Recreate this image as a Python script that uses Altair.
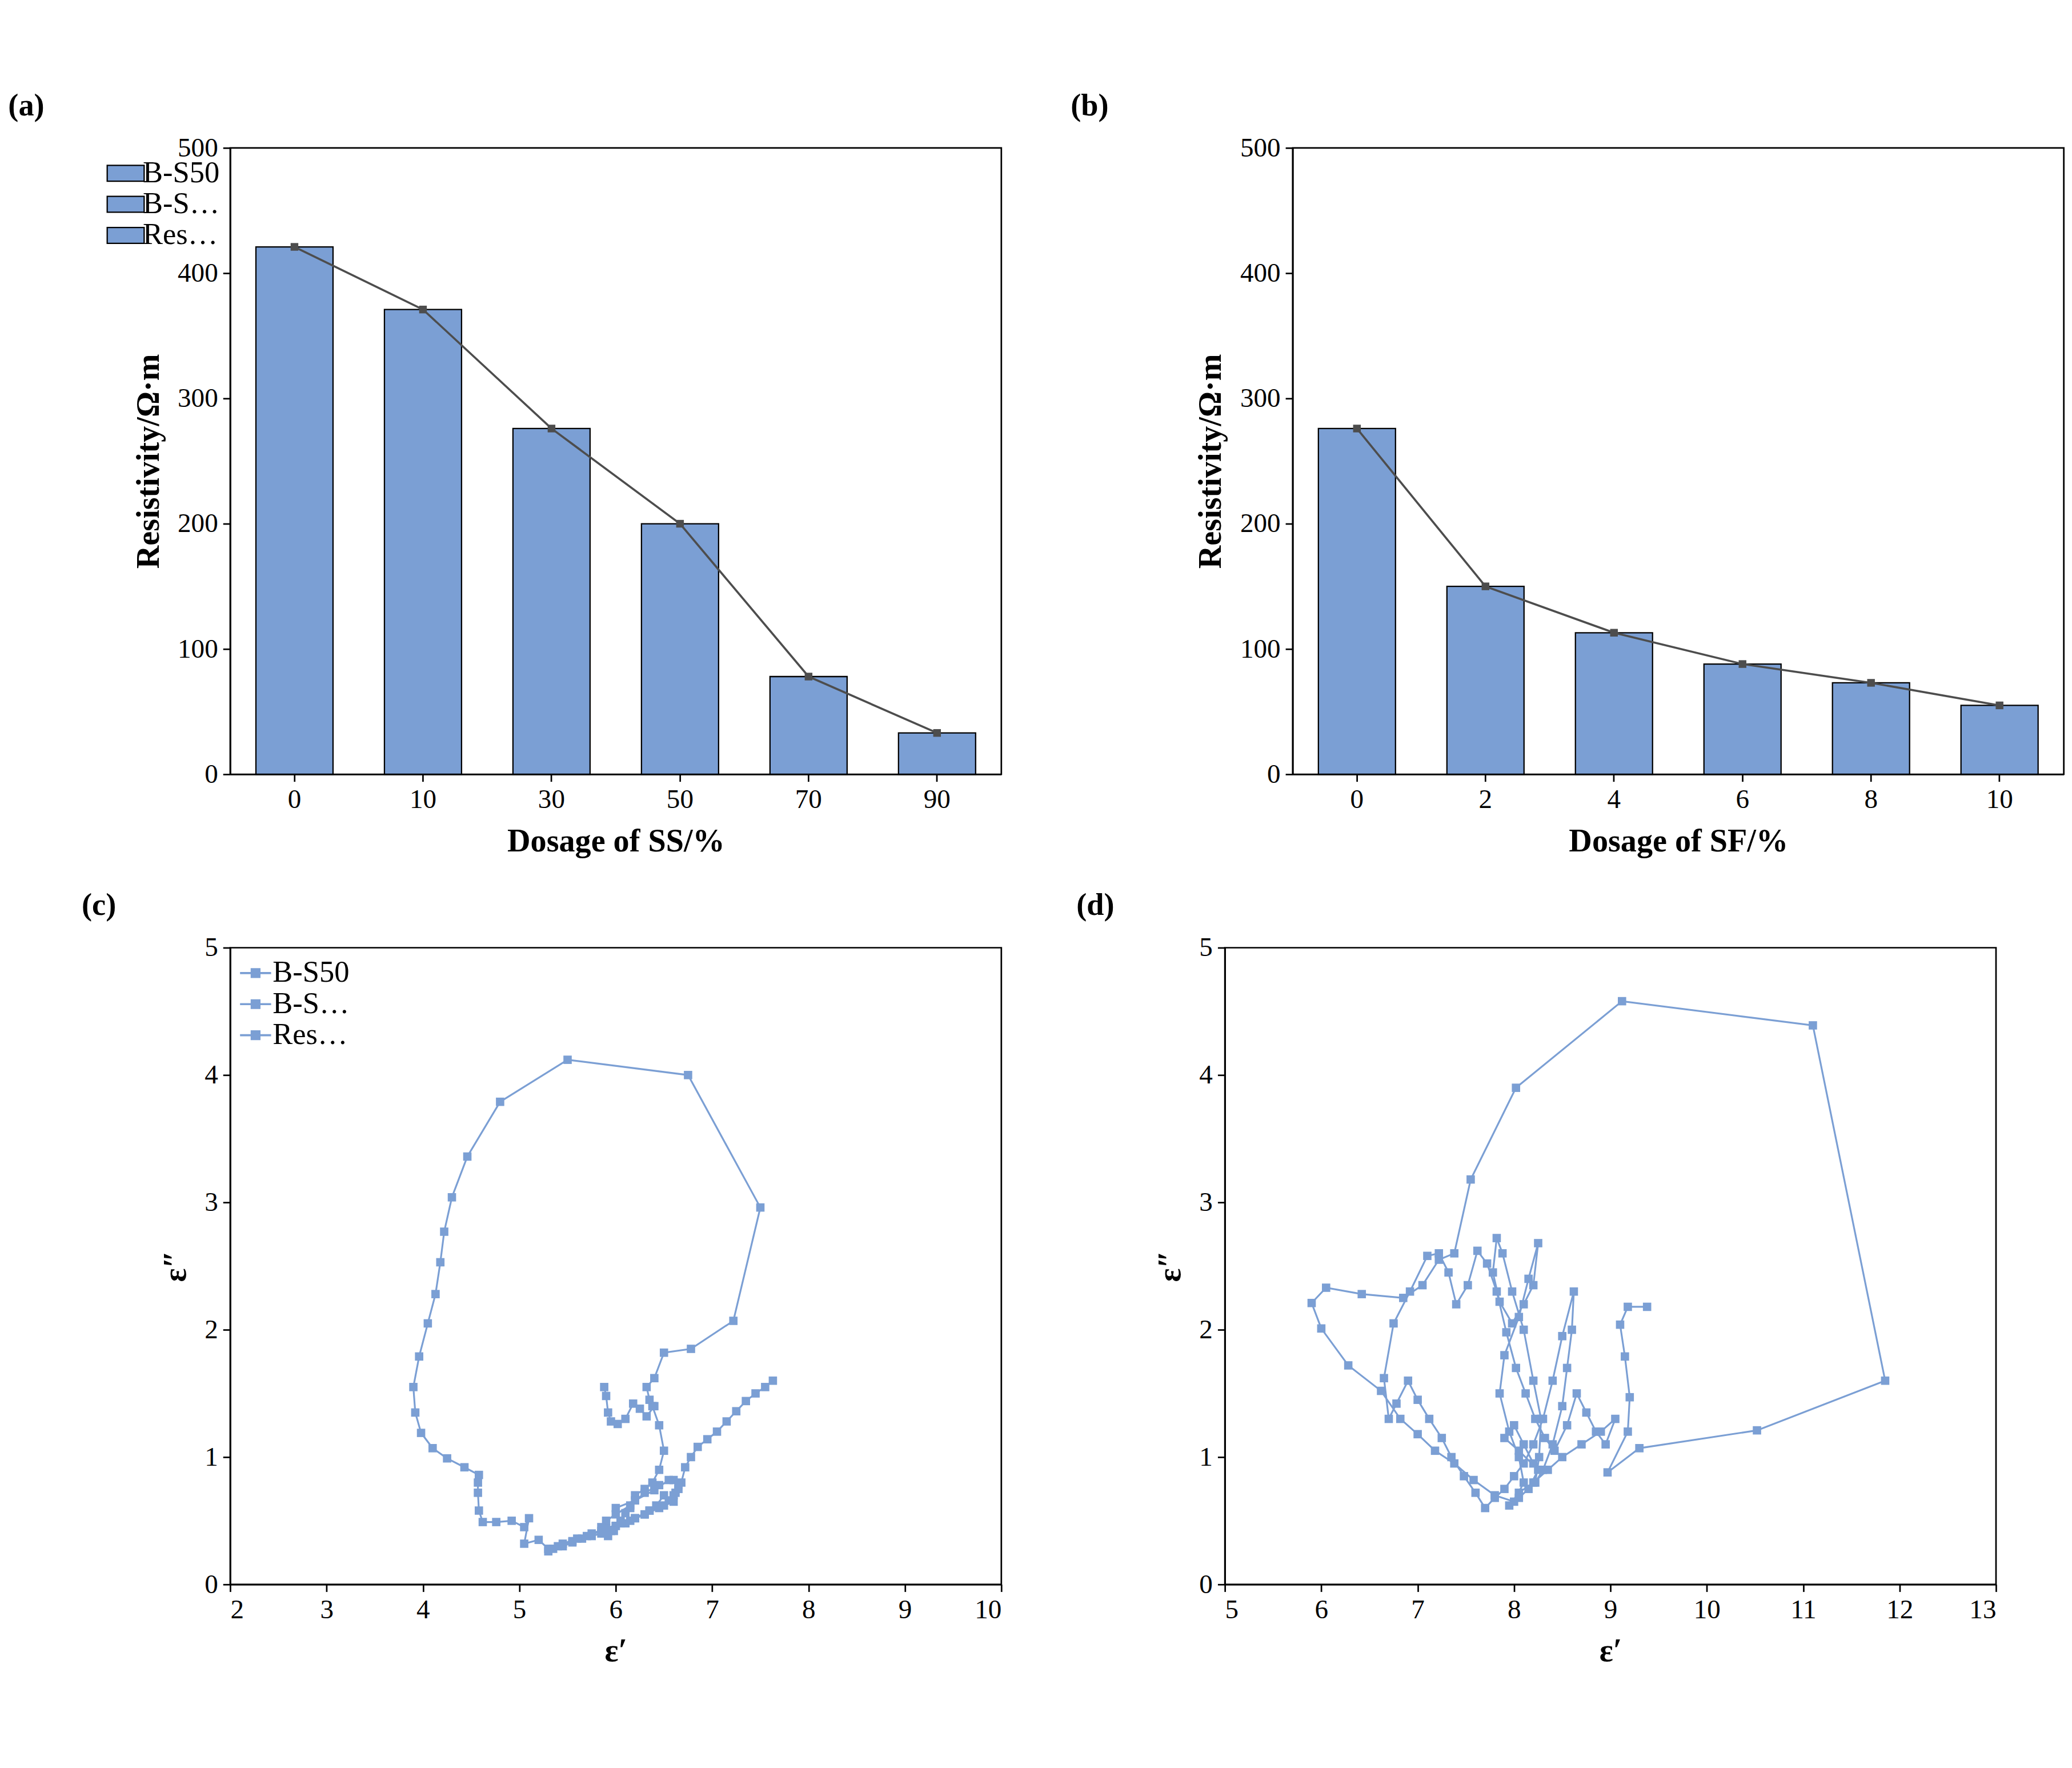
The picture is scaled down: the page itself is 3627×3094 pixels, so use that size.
import altair as alt
import pandas as pd

ss_dosage = ["0", "10", "30", "50", "70", "90"]
ss_resistivity = [421, 371, 276, 200, 78, 33]
sf_dosage = ["0", "2", "4", "6", "8", "10"]
sf_resistivity = [276, 150, 113, 88, 73, 55]

bs50_eps1 = [7.63, 7.55, 7.45, 7.35, 7.25, 7.15, 7.05, 6.95, 6.85, 6.78, 6.72, 6.68, 6.62, 6.55, 6.5, 6.42,
             6.35, 6.3, 6.2, 6.1, 6.0, 5.95, 5.85, 5.75, 5.65, 5.55, 5.45, 5.35, 5.3, 5.4, 5.55, 5.7, 5.85,
             6.0, 6.15, 6.3, 6.45, 6.6, 6.65, 6.6, 6.45, 6.3, 6.15, 6.0, 5.9, 5.85, 5.88, 5.92, 5.98, 6.05,
             6.1, 6.15, 6.2, 6.3, 6.38, 6.45, 6.5, 6.45, 6.38, 6.35, 6.32, 6.4, 6.5, 6.78, 7.22, 7.5, 6.75,
             5.5, 4.8, 4.46, 4.3, 4.22, 4.18, 4.13, 4.05, 3.96, 3.9, 3.92, 3.98, 4.1, 4.25, 4.43, 4.58, 4.57,
             4.57, 4.58, 4.62, 4.76, 4.92, 5.05, 5.1, 5.05, 5.2, 5.3, 5.45, 5.6, 5.75, 5.9, 6.05, 6.2, 6.35,
             6.5, 6.6, 6.65, 6.55, 6.4, 6.2, 6.0]
bs50_eps2 = [1.6, 1.55, 1.5, 1.44, 1.36, 1.28, 1.2, 1.14, 1.08, 1.0, 0.92, 0.8, 0.72, 0.66, 0.7, 0.62,
             0.58, 0.55, 0.52, 0.48, 0.46, 0.42, 0.4, 0.38, 0.36, 0.33, 0.3, 0.28, 0.26, 0.3, 0.34, 0.38,
             0.42, 0.46, 0.5, 0.55, 0.6, 0.65, 0.75, 0.82, 0.78, 0.72, 0.62, 0.55, 0.5, 0.45, 0.4, 0.38,
             0.42, 0.5, 0.56, 0.6, 0.7, 0.75, 0.8, 0.9, 1.05, 1.25, 1.4, 1.45, 1.55, 1.62, 1.82, 1.85, 2.07,
             2.96, 4.0, 4.12, 3.79, 3.36, 3.04, 2.77, 2.53, 2.28, 2.05, 1.79, 1.55, 1.35, 1.19, 1.07, 0.99,
             0.92, 0.86, 0.8, 0.72, 0.58, 0.49, 0.49, 0.5, 0.45, 0.52, 0.32, 0.35, 0.28, 0.32, 0.36, 0.4,
             0.44, 0.48, 0.52, 0.58, 0.62, 0.7, 0.78, 0.82, 0.74, 0.66, 0.6]
bs50_small_loop_eps1 = [5.88, 5.9, 5.92, 5.95, 6.02, 6.1, 6.18, 6.25, 6.32, 6.4]
bs50_small_loop_eps2 = [1.55, 1.48, 1.35, 1.28, 1.26, 1.3, 1.42, 1.38, 1.32, 1.4]

bs506_eps1 = [9.38, 9.18, 9.1, 9.15, 9.2, 9.18, 8.97, 9.3, 10.52, 11.85, 11.1, 9.12, 8.02, 7.55, 7.38,
              7.22, 7.05, 6.85, 6.42, 6.05, 5.9, 6.0, 6.28, 6.62, 6.82, 7.0, 7.18, 7.38, 7.58, 7.8, 8.0,
              8.1, 8.05, 7.95, 7.85, 7.9, 8.05, 8.15, 8.25, 8.2, 8.1, 7.98, 7.85, 7.78, 7.82, 7.88, 7.98,
              8.1, 8.2, 8.28, 8.26, 8.22, 8.3, 8.4, 8.5, 8.55, 8.6, 8.62, 8.5, 8.4, 8.3, 8.2, 8.1, 8.0,
              7.9, 7.8, 7.7, 7.6, 7.48, 7.35, 7.25, 7.12, 7.0, 6.9, 6.78, 6.7, 6.65, 6.75, 6.92, 7.1, 7.22,
              7.32, 7.4, 7.52, 7.62, 7.72, 7.82, 7.92, 8.02, 8.12, 8.22, 8.32, 8.42, 8.55, 8.65, 8.75, 8.85,
              8.95, 9.05, 8.9, 8.7, 8.5, 8.35, 8.2, 8.05, 7.95, 8.05, 8.15, 8.25, 8.05, 7.9, 8.0, 8.1, 8.2]
bs506_eps2 = [2.18, 2.18, 2.04, 1.79, 1.47, 1.2, 0.88, 1.07, 1.21, 1.6, 4.39, 4.58, 3.9, 3.18, 2.6,
              2.55, 2.35, 2.25, 2.28, 2.33, 2.21, 2.01, 1.72, 1.52, 1.3, 1.18, 1.05, 0.95, 0.82, 0.7, 0.65,
              0.8, 1.0, 1.2, 1.5, 1.8, 2.1, 2.4, 2.68, 2.35, 2.2, 2.05, 2.22, 2.45, 2.72, 2.6, 2.3, 2.0,
              1.6, 1.3, 1.0, 0.8, 0.9, 1.1, 1.4, 1.7, 2.0, 2.3, 1.95, 1.6, 1.3, 1.1, 0.95, 0.85, 0.75, 0.68,
              0.6, 0.72, 0.85, 1.0, 1.15, 1.3, 1.45, 1.6, 1.42, 1.3, 1.62, 2.05, 2.3, 2.58, 2.6, 2.45, 2.2,
              2.35, 2.62, 2.52, 2.3, 1.98, 1.7, 1.5, 1.3, 1.15, 1.05, 1.25, 1.5, 1.35, 1.2, 1.1, 1.3, 1.2,
              1.1, 1.0, 0.9, 0.8, 0.72, 0.62, 0.68, 0.75, 0.9, 1.05, 1.15, 1.25, 1.1, 0.95]

FONT = "Liberation Serif"
W, H = 1490, 1210


def bar_panel(dosage, values, color, label, xtitle):
    df = pd.DataFrame({"dosage": dosage, "value": values, "series": "Resistivity"})
    x = alt.X("dosage:N", sort=dosage, title=xtitle,
              scale=alt.Scale(paddingInner=0.4, paddingOuter=0.2),
              axis=alt.Axis(labelAngle=0))
    y = alt.Y("value:Q", title="Resistivity/Ω·m", scale=alt.Scale(domain=[0, 500]),
              axis=alt.Axis(values=[0, 100, 200, 300, 400, 500]))
    bars = alt.Chart(df).mark_bar(stroke="black", strokeWidth=2.5).encode(
        x=x, y=y,
        color=alt.Color("series:N", scale=alt.Scale(range=[color]),
                        legend=alt.Legend(title=None, orient="top-right", symbolType="M-1.4,-0.6H1.4V0.6H-1.4Z",
                                          symbolSize=2600, symbolStrokeColor="black", symbolStrokeWidth=2.5,
                                          labelFontSize=58, labelFont=FONT, padding=14, offset=6)),
    )
    line = alt.Chart(df).mark_line(color="#4d4d4d", strokeWidth=4,
                                   point=alt.OverlayMarkDef(shape="square", size=220, color="#4d4d4d")).encode(
        x=x, y="value:Q")
    return (bars + line).properties(width=W, height=H, title=alt.TitleParams(label, anchor="start", dx=-240, dy=-20))


def cole_panel(frames, color, name, label, xdomain, xvals):
    df = pd.concat(frames, ignore_index=True)
    df["series"] = name
    chart = alt.Chart(df).mark_line(color=color, strokeWidth=3.5,
                                    point=alt.OverlayMarkDef(shape="square", size=260, color=color)).encode(
        x=alt.X("e1:Q", title="ε′", scale=alt.Scale(domain=xdomain, nice=False), axis=alt.Axis(values=xvals)),
        y=alt.Y("e2:Q", title="ε″", scale=alt.Scale(domain=[0, 5]), axis=alt.Axis(values=[0, 1, 2, 3, 4, 5])),
        detail="part:N",
        order="idx:Q",
        color=alt.Color("series:N", scale=alt.Scale(range=[color]),
                        legend=alt.Legend(title=None, orient="top-left", symbolType="M-2,0H2M-0.5,-0.5H0.5V0.5H-0.5Z",
                                          symbolSize=900, symbolStrokeWidth=4, symbolFillColor=color,
                                          labelFontSize=58, labelFont=FONT, offset=20)),
    )
    return chart.properties(width=W, height=H + 20, title=alt.TitleParams(label, anchor="start", dx=-150, dy=-20))


frame_c1 = pd.DataFrame({"e1": bs50_eps1, "e2": bs50_eps2, "part": "a", "idx": range(len(bs50_eps1))})
frame_c2 = pd.DataFrame({"e1": bs50_small_loop_eps1, "e2": bs50_small_loop_eps2, "part": "b",
                         "idx": range(len(bs50_small_loop_eps1))})
frame_d = pd.DataFrame({"e1": bs506_eps1, "e2": bs506_eps2, "part": "a", "idx": range(len(bs506_eps1))})

pa = bar_panel(ss_dosage, ss_resistivity, "#7b9fd4", "(a)", "Dosage of SS/%")
pb = bar_panel(sf_dosage, sf_resistivity, "#fdb07c", "(b)", "Dosage of SF/%")
pc = cole_panel([frame_c1, frame_c2], "#3a62b0", "B-S50", "(c)", [2, 10], list(range(2, 11)))
pd_ = cole_panel([frame_d], "#ff8c3a", "B-S50-6", "(d)", [5, 13], list(range(5, 14)))

chart = alt.vconcat(
    alt.hconcat(pa, pb, spacing=130),
    alt.hconcat(pc, pd_, spacing=140),
    spacing=60,
).configure(font=FONT).configure_view(stroke="black", strokeWidth=3).configure_axis(
    labelFont=FONT, titleFont=FONT, labelFontSize=52, titleFontSize=62, titleFontWeight="bold",
    labelColor="black", titleColor="black", domainColor="black", tickColor="black",
    domainWidth=3, tickWidth=3, tickSize=14, grid=False, labelPadding=10, titlePadding=24,
).configure_title(font=FONT, fontSize=60, fontWeight="bold", color="black").configure_legend(
    strokeColor=None, labelColor="black")

chart.save("out.html", embed_options={"renderer": "svg", "actions": False})
